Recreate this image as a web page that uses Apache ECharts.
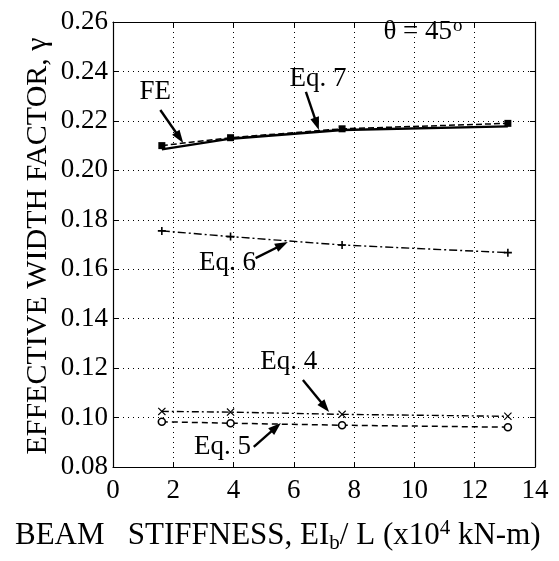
<!DOCTYPE html>
<html><head><meta charset="utf-8">
<script src="https://cdn.jsdelivr.net/npm/echarts@6/dist/echarts.min.js"></script>
<style>html,body{margin:0;padding:0;background:#fff}#c{width:559px;height:561px}</style>
</head><body><div id="c"></div>
<script>
// ---- data ----
const xStiffness = [1.62, 3.9, 7.6, 13.1];
const feValues  = [0.2085, 0.2128, 0.2163, 0.2178];
const eq7Values = [0.2100, 0.2132, 0.2168, 0.2190];
const eq6Values = [0.1755, 0.1732, 0.1698, 0.1667];
const eq4Values = [0.1025, 0.1022, 0.1013, 0.1005];
const eq5Values = [0.0983, 0.0977, 0.0969, 0.0961];
const xTickLabels = ['0','2','4','6','8','10','12','14'];
const yTickLabels = ['0.08','0.10','0.12','0.14','0.16','0.18','0.20','0.22','0.24','0.26'];
const annotations = [
  {text:'FE',    textAt:[1.40,0.2317], from:[1.57,0.2244], to:[2.33,0.2111]},
  {text:'Eq. 7', textAt:[6.80,0.2370], from:[6.40,0.2317], to:[6.83,0.2163]},
  {text:'Eq. 6', textAt:[3.80,0.1625], from:[4.73,0.1645], to:[5.80,0.1710]},
  {text:'Eq. 4', textAt:[5.83,0.1225], from:[6.30,0.1152], to:[7.17,0.1022]},
  {text:'Eq. 5', textAt:[3.63,0.0881], from:[4.67,0.0881], to:[5.57,0.0978]}
];
const thetaAt = [8.97, 0.2560];

const FONT = 'Liberation Serif';
const pts = v => xStiffness.map((x,i)=>[x, v[i]]);
const crossSym = 'path://M1,0L5,4L9,0L10,1L6,5L10,9L9,10L5,6L1,10L0,9L4,5L0,1Z';
const plusSym = 'path://M4,0H6V4H10V6H6V10H4V6H0V4H4Z';

const chart = echarts.init(document.getElementById('c'), null, {renderer:'canvas'});
chart.setOption({
  backgroundColor:'#fff',
  animation:false,
  grid:{left:113, right:24, top:22, bottom:94},
  xAxis:[{
    type:'value', min:0, max:14, interval:2,
    axisLine:{show:true, onZero:false, lineStyle:{color:'#000', width:1.2}},
    axisTick:{show:true, inside:true, length:5, lineStyle:{color:'#000'}},
    axisLabel:{color:'#000', fontFamily:FONT, fontSize:27, margin:10,
      formatter:(v)=>xTickLabels[Math.round(v/2)]},
    splitLine:{show:true, lineStyle:{color:'#000', type:[1,4], width:1}}
  },{
    type:'value', min:0, max:14, interval:2, position:'top',
    axisLine:{show:true, onZero:false, lineStyle:{color:'#000', width:1.2}},
    axisTick:{show:true, inside:true, length:5, lineStyle:{color:'#000'}},
    axisLabel:{show:false}, splitLine:{show:false}
  }],
  yAxis:[{
    type:'value', min:0.08, max:0.26, interval:0.02,
    axisLine:{show:true, onZero:false, lineStyle:{color:'#000', width:1.2}},
    axisTick:{show:true, inside:true, length:5, lineStyle:{color:'#000'}},
    axisLabel:{color:'#000', fontFamily:FONT, fontSize:27, margin:5,
      formatter:(v)=>yTickLabels[Math.round((v-0.08)/0.02)]},
    splitLine:{show:true, lineStyle:{color:'#000', type:[1,4], width:1}}
  },{
    type:'value', min:0.08, max:0.26, interval:0.02, position:'right',
    axisLine:{show:true, onZero:false, lineStyle:{color:'#000', width:1.2}},
    axisTick:{show:true, inside:true, length:5, lineStyle:{color:'#000'}},
    axisLabel:{show:false}, splitLine:{show:false}
  }],
  series:[
    {name:'FE', type:'line', data:pts(feValues), symbol:'none',
     lineStyle:{color:'#000', width:2.4, type:'solid'}, z:5},
    {name:'Eq. 7', type:'line', data:pts(eq7Values), symbol:'rect', symbolSize:7,
     itemStyle:{color:'#000'}, lineStyle:{color:'#000', width:1.5, type:[6,3]}},
    {name:'Eq. 6', type:'line', data:pts(eq6Values), symbol:plusSym, symbolSize:8,
     itemStyle:{color:'#000'}, lineStyle:{color:'#000', width:1.4, type:[8,3,2,3]}},
    {name:'Eq. 4', type:'line', data:pts(eq4Values), symbol:crossSym, symbolSize:8,
     itemStyle:{color:'#000'}, lineStyle:{color:'#000', width:1.4, type:[7,3,2,3]}},
    {name:'Eq. 5', type:'line', data:pts(eq5Values), symbol:'circle', symbolSize:7,
     itemStyle:{color:'#fff', borderColor:'#000', borderWidth:1.6}, lineStyle:{color:'#000', width:1.5, type:[6,4]}}
  ]
});

function px(p){ return chart.convertToPixel({gridIndex:0}, p); }
const g = [];
annotations.forEach(a=>{
  const t = px(a.textAt), f = px(a.from), e = px(a.to);
  g.push({type:'text', style:{text:a.text, x:t[0], y:t[1], font:'27px "'+FONT+'"', fill:'#000',
    align:'center', verticalAlign:'middle', textAlign:'center', textVerticalAlign:'middle'}});
  const dx = e[0]-f[0], dy = e[1]-f[1], L = Math.hypot(dx,dy);
  const ux = dx/L, uy = dy/L, nx = -uy, ny = ux, hl = 13, hw = 4.5;
  g.push({type:'line', shape:{x1:f[0], y1:f[1], x2:e[0]-ux*hl*0.6, y2:e[1]-uy*hl*0.6},
    style:{stroke:'#000', lineWidth:2.4}});
  g.push({type:'polygon', shape:{points:[[e[0],e[1]],
    [e[0]-ux*hl+nx*hw, e[1]-uy*hl+ny*hw],[e[0]-ux*hl-nx*hw, e[1]-uy*hl-ny*hw]]},
    style:{fill:'#000'}});
});
const th = px(thetaAt);
g.push({type:'text', style:{text:'{a|θ = 45}{s|o}', x:th[0], y:th[1], align:'left', verticalAlign:'middle',
  textAlign:'left', textVerticalAlign:'middle',
  rich:{a:{fontFamily:FONT, fontSize:27, fill:'#000', color:'#000'},
        s:{fontFamily:FONT, fontSize:19, fill:'#000', color:'#000', verticalAlign:'top', padding:[0,0,12,1]}}}});
g.push({type:'text', style:{text:'EFFECTIVE WIDTH FACTOR, γ', x:38, y:246, font:'30px "'+FONT+'"', fill:'#000',
  align:'center', verticalAlign:'middle', textAlign:'center', textVerticalAlign:'middle'}, rotation:Math.PI/2, originX:38, originY:246});
g.push({type:'text', style:{text:'{t|BEAM   STIFFNESS, EI}{sub|b}{t|/ L (x10}{sup|4}{t| kN-m)}', x:15, y:536,
  align:'left', verticalAlign:'middle', textAlign:'left', textVerticalAlign:'middle',
  rich:{t:{fontFamily:FONT, fontSize:31, fill:'#000', color:'#000', lineHeight:36},
        sub:{fontFamily:FONT, fontSize:21, fill:'#000', color:'#000', verticalAlign:'bottom', lineHeight:36, padding:[9,0,0,0]},
        sup:{fontFamily:FONT, fontSize:21, fill:'#000', color:'#000', verticalAlign:'top', lineHeight:36, padding:[0,0,10,0]}}}});
chart.setOption({graphic:g});
</script></body></html>
